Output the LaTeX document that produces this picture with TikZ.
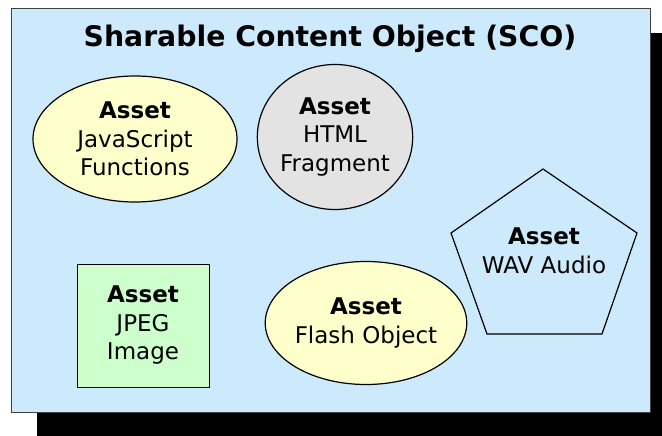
\documentclass[tikz,border=0pt]{standalone}
\usepackage{fontspec}
\setmainfont{DejaVu Sans}
\usetikzlibrary{shapes.geometric}
\definecolor{scoblue}{HTML}{CCEAFB}
\definecolor{assetyellow}{HTML}{FFFFCC}
\definecolor{assetgray}{HTML}{E3E3E3}
\definecolor{assetgreen}{HTML}{CCFFCC}

\begin{document}
\begin{tikzpicture}[x=1pt,y=-1pt,line width=1.2pt,
  asset/.style={draw=black,inner sep=0pt,align=center,font=\fontsize{23}{28.5}\selectfont},
  oval/.style={asset,ellipse}]
  \useasboundingbox (0,0) rectangle (662,436);
  % sombra y caja del SCO
  \fill[black] (37,33) rectangle (662,436);
  \draw[fill=scoblue,line width=0.8pt,draw=black!75] (11,8) rectangle (650,412);
  \node[anchor=base,font=\fontsize{28.3}{32}\selectfont\bfseries] (title) at (330,47) {Sharable Content Object (SCO)};
  % assets
  \node[oval,fill=assetyellow,minimum width=204,minimum height=126] (js) at (135,139) {\textbf{Asset}\\JavaScript\\Functions};
  \node[oval,fill=assetgray,minimum width=154,minimum height=145] (html) at (335,137) {\textbf{Asset}\\HTML\\Fragment};
  \node[oval,fill=assetyellow,minimum width=198,minimum height=123] (flash) at (366,323) {\textbf{Asset}\\Flash Object};
  \node[asset,fill=assetgreen,line width=0.8pt,minimum width=132,minimum height=123] (jpeg) at (143,325.5) {\textbf{Asset}\\JPEG\\Image};
  \draw (543,169) -- (637,233) -- (602,334) -- (487,334) -- (451,233) -- cycle;
  \node[asset,draw=none] (wav) at (544,251) {\textbf{Asset}\\WAV Audio};
\end{tikzpicture}
\end{document}
